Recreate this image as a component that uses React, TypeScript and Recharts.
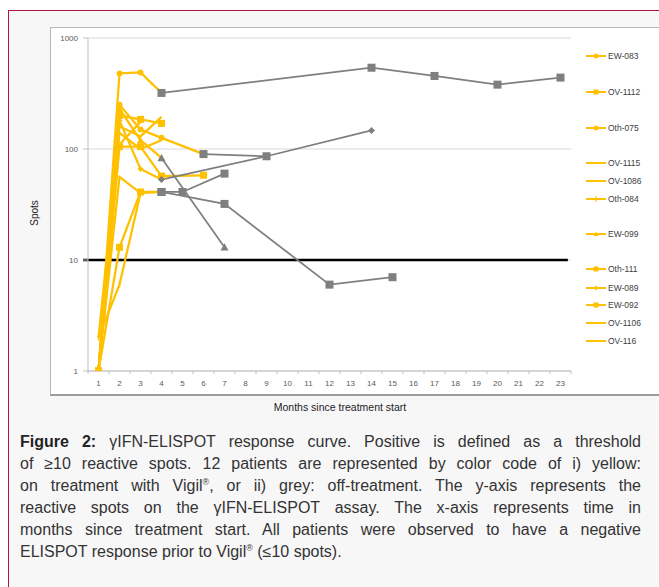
import React from "react";
import { LineChart, Line, XAxis, YAxis, CartesianGrid, ReferenceLine } from "recharts";

type Pt = [number, number];

// month ticks on the category axis
const monthTicks = [1, 2, 3, 4, 5, 6, 7, 8, 9, 10, 11, 12, 13, 14, 15, 16, 17, 18, 19, 20, 21, 22, 23];
const spotTicks = [1, 10, 100, 1000];
const threshold = 10;

// on treatment (yellow) values, [month, spots]
const ew083: Pt[] = [[1, 1], [2, 480], [3, 490], [4, 320]];
const ov1112: Pt[] = [[1, 1], [2, 200], [3, 185], [4, 170]];
const oth075: Pt[] = [[1, 1], [2, 250], [3, 150], [4, 126], [6, 90]];
const ov1115: Pt[] = [[1, 1], [2, 160], [3, 130], [4, 195]];
const ov1086: Pt[] = [[1, 1], [2, 110], [3, 175]];
const oth084: Pt[] = [[1, 2], [2, 6], [3, 40], [4, 41]];
const ew099: Pt[] = [[1, 1], [2, 230], [3, 120], [4, 83]];
const oth111: Pt[] = [[1, 1], [2, 105], [3, 105], [4, 57], [6, 58]];
const ew089: Pt[] = [[1, 1], [2, 180], [3, 66], [4, 53]];
const ew092: Pt[] = [[1, 1], [2, 13], [3, 41], [4, 41]];
const ov1106: Pt[] = [[1, 1], [2, 56], [3, 40]];
const ov116: Pt[] = [[1, 2], [2, 140], [3, 100], [4, 120]];

// off treatment (grey) values
const ew083Off: Pt[] = [[4, 320], [14, 540], [17, 455], [20, 380], [23, 440]];
const oth075Off: Pt[] = [[6, 90], [9, 86]];
const oth084Off: Pt[] = [[4, 41], [7, 32], [12, 6], [15, 7]];
const ew099Off: Pt[] = [[4, 83], [7, 13]];
const ew089Off: Pt[] = [[4, 53], [9, 86], [14, 147]];
const ew092Off: Pt[] = [[4, 41], [5, 41], [7, 60]];

type Shape = "circle" | "square" | "diamond" | "triangle" | "cross" | "none";

const patients: { name: string; on: Pt[]; off?: Pt[]; shape: Shape; gap: number }[] = [
  { name: "EW-083", on: ew083, off: ew083Off, shape: "circle", gap: 0 },
  { name: "OV-1112", on: ov1112, shape: "square", gap: 36 },
  { name: "Oth-075", on: oth075, off: oth075Off, shape: "circle", gap: 36 },
  { name: "OV-1115", on: ov1115, shape: "none", gap: 35 },
  { name: "OV-1086", on: ov1086, shape: "none", gap: 18 },
  { name: "Oth-084", on: oth084, off: oth084Off, shape: "cross", gap: 18 },
  { name: "EW-099", on: ew099, off: ew099Off, shape: "triangle", gap: 35 },
  { name: "Oth-111", on: oth111, shape: "square", gap: 35 },
  { name: "EW-089", on: ew089, off: ew089Off, shape: "diamond", gap: 19 },
  { name: "EW-092", on: ew092, off: ew092Off, shape: "square", gap: 17 },
  { name: "OV-1106", on: ov1106, shape: "none", gap: 18 },
  { name: "OV-116", on: ov116, shape: "none", gap: 18 },
];

const YELLOW = "#FFC000";
const GREY = "#7F7F7F";
const FONT = "'Liberation Sans', Arial, sans-serif";

const rows = (pts: Pt[]) => pts.map(([x, v]) => ({ x, v }));

function markerShape(shape: Shape, cx: number, cy: number, s: number, color: string, key?: any) {
  const h = s / 2;
  if (shape === "circle") return <circle key={key} cx={cx} cy={cy} r={h} fill={color} />;
  if (shape === "square") return <rect key={key} x={cx - h} y={cy - h} width={s} height={s} fill={color} />;
  if (shape === "diamond")
    return <polygon key={key} points={`${cx},${cy - h} ${cx + h},${cy} ${cx},${cy + h} ${cx - h},${cy}`} fill={color} />;
  if (shape === "triangle")
    return <polygon key={key} points={`${cx},${cy - h} ${cx + h},${cy + h * 0.8} ${cx - h},${cy + h * 0.8}`} fill={color} />;
  if (shape === "cross")
    return <line key={key} x1={cx} y1={cy - h} x2={cx} y2={cy + h} stroke={color} strokeWidth={1.5} />;
  return <g key={key} />;
}

const makeDot = (shape: Shape, color: string, size: number) => (p: any) => {
  if (p.cx == null || p.cy == null) return <g key={p.index} />;
  return markerShape(shape, p.cx, p.cy, size, color, p.index);
};

const sizeFor = (shape: Shape, grey: boolean) => {
  if (grey) return shape === "diamond" ? 7 : 8;
  if (shape === "square") return 7;
  if (shape === "triangle") return 7;
  return 6;
};

const greyShape = (shape: Shape): Shape => (shape === "triangle" || shape === "diamond" ? shape : "square");

const xTicks = monthTicks.flatMap((m) => [m - 0.5, m]).concat(monthTicks[monthTicks.length - 1] + 0.5);

const MonthTick = (p: any) => {
  const val = p.payload.value;
  if (Number.isInteger(val)) {
    return (
      <text x={p.x} y={p.y + 15} textAnchor="middle" fontSize={8} fill="#595959" fontFamily={FONT}>
        {val}
      </text>
    );
  }
  return <line x1={p.x} y1={p.y} x2={p.x} y2={p.y + 3} stroke="#bfbfbf" />;
};

const Legend12 = () => {
  let top = 56;
  return (
    <div style={{ position: "absolute", left: 585, top: 0 }}>
      {patients.map((pt) => {
        top += pt.gap;
        return (
          <div key={pt.name} style={{ position: "absolute", top: top - 6, left: 0, width: 70, height: 12, display: "flex", alignItems: "center" }}>
            <svg width={22} height={12}>
              <line x1={1} y1={6} x2={21} y2={6} stroke={YELLOW} strokeWidth={2} />
              {markerShape(pt.shape, 11, 6, 5, YELLOW)}
            </svg>
            <span style={{ fontSize: 8.5, color: "#404040", fontFamily: FONT, marginLeft: 1 }}>{pt.name}</span>
          </div>
        );
      })}
    </div>
  );
};

const lineStyle: React.CSSProperties = { textAlign: "justify", textAlignLast: "justify", whiteSpace: "nowrap" };

export default function App() {
  return (
    <div style={{ position: "relative", width: 659, height: 587, overflow: "hidden", background: "#fff" }}>
      <style>{`body{margin:0}`}</style>
      <div style={{ position: "absolute", left: 8, top: 10, width: 720, height: 620, border: "1.5px solid #b3153a", background: "#f8f7f8" }} />
      <div style={{ position: "absolute", left: 50, top: 27, width: 640, height: 366, background: "#fff", border: "1px solid #b8b8b8", borderBottom: "2px solid #9c9c9c" }} />
      <div style={{ position: "absolute", left: 50, top: 27 }}>
        <LineChart width={609} height={368} margin={{ top: 11, right: 88, bottom: 0, left: 0 }}>
          <CartesianGrid vertical={false} stroke="#d9d9d9" />
          <XAxis
            dataKey="x"
            type="number"
            domain={[0.5, 23.5]}
            ticks={xTicks}
            interval={0}
            tick={<MonthTick />}
            tickLine={false}
            tickSize={0}
            tickMargin={0}
            height={24}
            stroke="#bfbfbf"
            allowDuplicatedCategory={false}
          />
          <YAxis
            type="number"
            scale="log"
            domain={[1, 1000]}
            ticks={spotTicks}
            allowDataOverflow
            width={38}
            tickSize={5}
            tickMargin={5}
            stroke="#bfbfbf"
            tick={{ fontSize: 8, fill: "#595959", fontFamily: FONT }}
          />
          <ReferenceLine
            segment={[{ x: 0.26, y: threshold }, { x: 23.35, y: threshold }]}
            stroke="#000"
            strokeWidth={2.5}
            ifOverflow="visible"
          />
          {patients.map((pt) => (
            <Line
              key={pt.name}
              name={pt.name}
              data={rows(pt.on)}
              dataKey="v"
              stroke={YELLOW}
              strokeWidth={2.25}
              dot={makeDot(pt.shape, YELLOW, sizeFor(pt.shape, false))}
              activeDot={false}
              connectNulls
              isAnimationActive={false}
            />
          ))}
          {patients
            .filter((pt) => pt.off)
            .map((pt) => (
              <Line
                key={pt.name + "-off"}
                name={pt.name + " off"}
                data={rows(pt.off as Pt[])}
                dataKey="v"
                stroke={GREY}
                strokeWidth={1.75}
                dot={makeDot(greyShape(pt.shape), GREY, sizeFor(greyShape(pt.shape), true))}
                activeDot={false}
                connectNulls
                isAnimationActive={false}
              />
            ))}
        </LineChart>
      </div>
      <Legend12 />
      <div style={{ position: "absolute", left: 34, top: 213, transform: "translate(-50%,-50%) rotate(-90deg)", fontSize: 10, fontFamily: FONT, color: "#222" }}>
        Spots
      </div>
      <div style={{ position: "absolute", left: 340, top: 407, transform: "translate(-50%,-50%)", fontSize: 10.5, fontFamily: FONT, color: "#222", whiteSpace: "nowrap" }}>
        Months since treatment start
      </div>
      <div style={{ position: "absolute", left: 20, top: 431, width: 621, fontSize: 16, lineHeight: "22px", fontFamily: FONT, color: "#333" }}>
        <div style={lineStyle}>
          <b style={{ color: "#222" }}>Figure 2:</b> γIFN-ELISPOT response curve. Positive is defined as a threshold
        </div>
        <div style={lineStyle}>of ≥10 reactive spots. 12 patients are represented by color code of i) yellow:</div>
        <div style={lineStyle}>
          on treatment with Vigil<sup style={{ fontSize: 9, lineHeight: 0 }}>®</sup>, or ii) grey: off-treatment. The y-axis represents the
        </div>
        <div style={lineStyle}>reactive spots on the γIFN-ELISPOT assay. The x-axis represents time in</div>
        <div style={lineStyle}>months since treatment start. All patients were observed to have a negative</div>
        <div style={{ whiteSpace: "nowrap" }}>
          ELISPOT response prior to Vigil<sup style={{ fontSize: 9, lineHeight: 0 }}>®</sup> (≤10 spots).
        </div>
      </div>
    </div>
  );
}
